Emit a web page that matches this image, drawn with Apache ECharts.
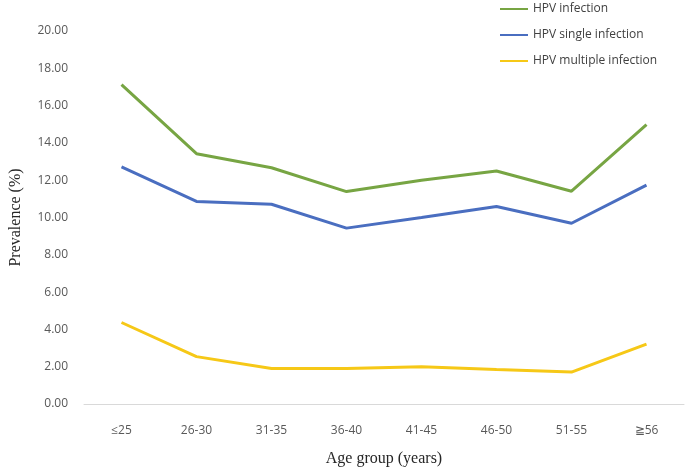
<!DOCTYPE html>
<html>
<head>
<meta charset="utf-8">
<script src="https://cdn.jsdelivr.net/npm/echarts@6/dist/echarts.min.js"></script>
<style>
html,body{margin:0;padding:0;background:#fff;}
#chart{width:685px;height:472px;}
</style>
</head>
<body>
<div id="chart"></div>
<script>
const categories = ['≤25', '26-30', '31-35', '36-40', '41-45', '46-50', '51-55', '≧56'];
const hpvInfection = [17.12, 13.42, 12.67, 11.39, 12.00, 12.49, 11.41, 14.98];
const hpvSingle = [12.72, 10.86, 10.71, 9.43, 10.00, 10.59, 9.69, 11.74];
const hpvMultiple = [4.37, 2.54, 1.90, 1.90, 2.00, 1.85, 1.71, 3.21];
const seriesNames = ['HPV infection', 'HPV single infection', 'HPV multiple infection'];
const seriesColors = ['#77A543', '#4A6EC0', '#F6C817'];

const chart = echarts.init(document.getElementById('chart'));
const values = [hpvInfection, hpvSingle, hpvMultiple];
chart.setOption({
  animation: false,
  backgroundColor: '#fff',
  grid: {left: 78, right: 1, top: 31, bottom: 66, containLabel: false},
  legend: {
    orient: 'vertical',
    left: 500,
    top: 2,
    padding: 0,
    icon: 'rect',
    itemWidth: 28,
    itemHeight: 2,
    itemGap: 12,
    data: seriesNames.map((n, i) => ({name: n, itemStyle: {color: seriesColors[i]}})),
    textStyle: {fontFamily: 'Open Sans', fontSize: 12, lineHeight: 14, color: '#404040'}
  },
  xAxis: {
    type: 'category',
    data: categories,
    boundaryGap: true,
    axisLine: {lineStyle: {color: '#D9D9D9', width: 1}},
    axisTick: {show: false},
    axisLabel: {fontFamily: 'Open Sans', fontSize: 12, color: '#595959', margin: 21},
    name: 'Age group (years)',
    nameLocation: 'middle',
    nameGap: 47,
    nameTextStyle: {fontFamily: 'Liberation Serif', fontSize: 16, color: '#262626'}
  },
  yAxis: {
    type: 'value',
    min: 0,
    max: 20,
    interval: 2,
    axisLine: {show: false},
    axisTick: {show: false},
    splitLine: {show: false},
    axisLabel: {fontFamily: 'Open Sans', fontSize: 12, color: '#595959', margin: 16,
      formatter: v => v.toFixed(2)},
    name: 'Prevalence (%)',
    nameLocation: 'middle',
    nameGap: 60,
    nameTextStyle: {fontFamily: 'Liberation Serif', fontSize: 16, color: '#262626'}
  },
  series: seriesNames.map((n, i) => ({
    name: n,
    type: 'line',
    data: values[i],
    symbol: 'none',
    lineStyle: {color: seriesColors[i], width: 3},
    itemStyle: {color: seriesColors[i]}
  }))
});
</script>
</body>
</html>
